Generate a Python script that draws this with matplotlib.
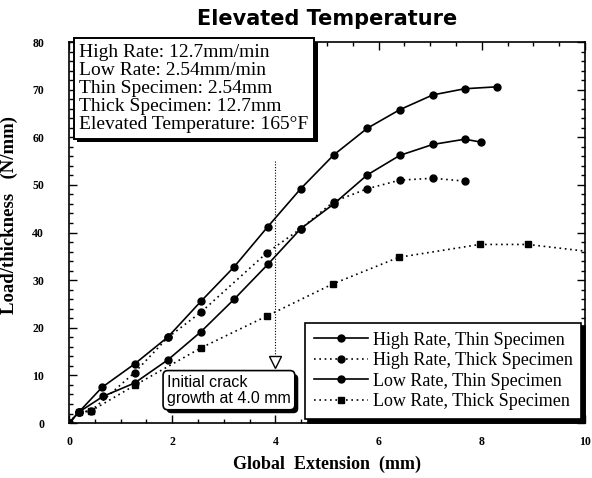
import matplotlib
matplotlib.use("Agg")
from matplotlib import pyplot as plt
from matplotlib import patheffects as pe
from matplotlib.ticker import MultipleLocator

# data
high_thin_x = [0, 0.19, 0.64, 1.27, 1.92, 2.56, 3.2, 3.85, 4.49, 5.13, 5.78, 6.41, 7.05, 7.67, 8.29]
high_thin_y = [0, 2.3, 7.5, 12.4, 18.1, 25.6, 32.8, 41.2, 49.2, 56.3, 61.9, 65.8, 68.9, 70.2, 70.6]

high_thick_x = [0, 0.19, 0.42, 1.27, 1.92, 2.56, 3.84, 4.49, 5.13, 5.78, 6.41, 7.05, 7.67]
high_thick_y = [0, 2.3, 2.5, 10.6, 18.0, 23.3, 35.8, 40.8, 46.5, 49.2, 51.0, 51.4, 50.8]

low_thin_x = [0, 0.19, 0.66, 1.27, 1.92, 2.56, 3.2, 3.86, 4.49, 5.13, 5.78, 6.41, 7.05, 7.67, 7.98]
low_thin_y = [0, 2.3, 5.6, 8.4, 13.3, 19.2, 26.0, 33.4, 40.8, 46.0, 52.1, 56.2, 58.5, 59.6, 59.0]

low_thick_x = [0, 0.19, 0.42, 1.27, 2.56, 3.84, 5.11, 6.39, 7.96, 8.89, 10.4]
low_thick_y = [0, 2.3, 2.5, 7.9, 15.8, 22.5, 29.2, 34.8, 37.5, 37.5, 35.6]

crack_x = 4.0
crack_top = 55.0
crack_tip = 12.8

info_lines = ["High Rate: 12.7mm/min",
              "Low Rate: 2.54mm/min",
              "Thin Specimen: 2.54mm",
              "Thick Specimen: 12.7mm",
              "Elevated Temperature: 165\u00b0F"]

serif = "Liberation Serif"
sans = "Liberation Sans"

fig = plt.figure(figsize=(5.92, 4.78), dpi=100)
ax = fig.add_axes([0.1166, 0.115, 0.8716, 0.797])

dotted = (0, (1, 2.2))
ax.plot(high_thin_x, high_thin_y, '-', color='black', lw=1.2, marker='o', ms=5,
        label="High Rate, Thin Specimen")
ax.plot(high_thick_x, high_thick_y, linestyle=dotted, color='black', lw=1.2, marker='o', ms=5,
        label="High Rate, Thick Specimen")
ax.plot(low_thin_x, low_thin_y, '-', color='black', lw=1.2, marker='o', ms=5,
        label="Low Rate, Thin Specimen")
ax.plot(low_thick_x, low_thick_y, linestyle=dotted, color='black', lw=1.2, marker='s', ms=4.5,
        label="Low Rate, Thick Specimen")

# initial crack arrow
ax.plot([crack_x, crack_x], [crack_top, crack_tip + 1], linestyle=(0, (1, 1.5)), color='black', lw=0.8)
ax.plot([crack_x], [crack_tip], marker='v', ms=8, mfc='white', mec='black', mew=1.0)

shadow = [pe.SimplePatchShadow(offset=(2.5, -2.5), shadow_rgbFace='black', alpha=1), pe.Normal()]

t = ax.text(1.9, 6.9, "Initial crack\ngrowth at 4.0 mm", family=sans, fontsize=11.5,
            ha='left', va='center', linespacing=1.1,
            bbox=dict(boxstyle='round,pad=0.25,rounding_size=0.3', fc='white', ec='black', lw=1.2))
t.get_bbox_patch().set_path_effects(shadow)

t2 = ax.text(0.2, 79.6, "\n".join(info_lines), family=serif, fontsize=14,
             ha='left', va='top', linespacing=1.08, clip_on=False, zorder=5,
             bbox=dict(boxstyle='square,pad=0.3', fc='white', ec='black', lw=1.4))
t2.get_bbox_patch().set_path_effects(shadow)

leg = ax.legend(loc='lower right', prop={'family': serif, 'size': 13}, fancybox=False,
                edgecolor='black', framealpha=1, borderaxespad=0.2, handlelength=3.0,
                labelspacing=0.2, borderpad=0.5, handletextpad=0.25,
                shadow={'color': 'black', 'alpha': 1, 'ox': 2.5, 'oy': -2.5})
leg.get_frame().set_linewidth(1.2)

ax.set_xlim(0, 10)
ax.set_ylim(0, 80)
ax.xaxis.set_major_locator(MultipleLocator(2))
ax.xaxis.set_minor_locator(MultipleLocator(0.5))
ax.yaxis.set_major_locator(MultipleLocator(10))
ax.yaxis.set_minor_locator(MultipleLocator(2))
ax.tick_params(which='both', direction='in', top=True, right=True, width=1.0)
ax.tick_params(which='major', length=6)
ax.tick_params(which='minor', length=3)
ax.tick_params(axis='y', pad=18)
ax.tick_params(axis='x', pad=9)
for lab in ax.get_xticklabels() + ax.get_yticklabels():
    lab.set_family(serif)
    lab.set_fontweight('bold')
    lab.set_fontsize(8.5)
for sp in ax.spines.values():
    sp.set_linewidth(1.2)

ax.set_xlabel("Global  Extension  (mm)", family=serif, fontweight='bold', fontsize=13, labelpad=6)
ax.set_ylabel("Load/thickness   (N/mm)", family=serif, fontweight='bold', fontsize=13.5)
ax.yaxis.set_label_coords(-0.099, 0.546)
ax.set_title("Elevated Temperature", family="DejaVu Sans", fontweight='bold', fontsize=15, pad=12)

fig.savefig("out.png", dpi=100)
